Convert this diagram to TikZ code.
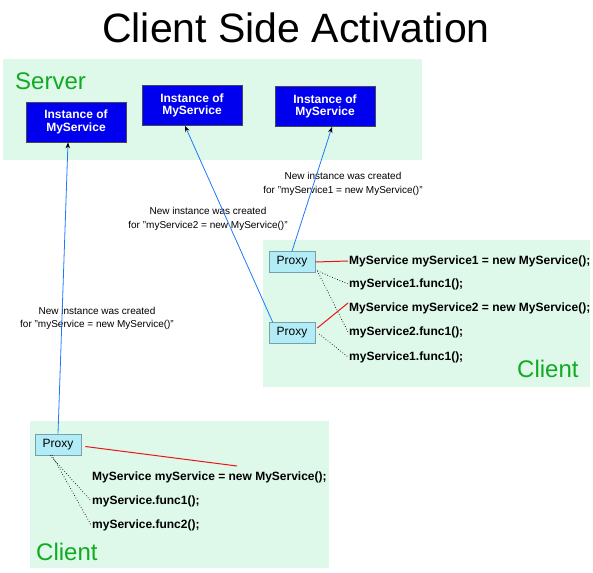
\documentclass[tikz,border=0pt]{standalone}
\usepackage{fontspec}
\setmainfont{Liberation Sans}
\usetikzlibrary{arrows.meta,calc}
\definecolor{panel}{RGB}{222,249,234}
\definecolor{lbl}{RGB}{17,170,34}
\definecolor{instblue}{RGB}{0,0,238}
\definecolor{instborder}{RGB}{70,70,90}
\definecolor{proxyfill}{RGB}{178,236,246}
\definecolor{proxyborder}{RGB}{120,160,170}
\definecolor{linkblue}{RGB}{30,120,255}
\definecolor{redline}{RGB}{235,20,20}
\tikzset{
  panelbox/.style={fill=panel,draw=none},
  inst/.style={draw=instborder,line width=0.8pt,fill=instblue,text=white,font=\fontsize{12}{12.5}\selectfont\bfseries,align=center,minimum width=100pt,minimum height=40pt,inner sep=0pt},
  proxy/.style={draw=proxyborder,line width=0.6pt,fill=proxyfill,font=\fontsize{12}{14}\selectfont,minimum width=46pt,minimum height=21pt,inner sep=0pt},
  code/.style={font=\fontsize{12}{14}\selectfont\bfseries,anchor=west,inner sep=1pt},
  note/.style={font=\fontsize{10}{13.5}\selectfont,align=center,inner sep=0pt},
  grouplbl/.style={font=\fontsize{24}{28}\selectfont,text=lbl,inner sep=0pt,anchor=base west},
  callline/.style={draw=linkblue,line width=0.8pt,-{Stealth[color=black,length=6pt,width=4.5pt]}},
  newline/.style={draw=redline,line width=1pt},
  useline/.style={draw=black,line width=0.7pt,dash pattern=on 0.7pt off 2pt},
}
\begin{document}
\begin{tikzpicture}[x=1pt,y=-1pt]
\useasboundingbox (0,0) rectangle (593,572);
% title
\node[font=\fontsize{41}{48}\selectfont,inner sep=0pt] (title) at (296,28) {Client Side Activation};
% panels
\path[panelbox] (3,59) rectangle (422,160);
\path[panelbox] (263,240) rectangle (590,387);
\path[panelbox] (30,421) rectangle (329,568);
\node[grouplbl] (srv) at (15,90) {Server};
\node[grouplbl] (cl1) at (517,377) {Client};
\node[grouplbl] (cl2) at (36,560) {Client};
% instances
\node[inst] (b1) at (76,122) {Instance of\\MyService};
\node[inst] (b2) at (192,105.5) {Instance of\\MyService};
\node[inst] (b3) at (325,106.5) {Instance of\\MyService};
% proxies
\node[proxy] (p1) at (292,262) {Proxy};
\node[proxy] (p2) at (292,333) {Proxy};
\node[proxy] (p3) at (58,444.5) {Proxy};
% code right client
\node[code] (r1) at (348,261) {MyService myService1 = new MyService();};
\node[code] (r2) at (348,284) {myService1.func1();};
\node[code] (r3) at (348,308) {MyService myService2 = new MyService();};
\node[code] (r4) at (348,332) {myService2.func1();};
\node[code] (r5) at (348,357) {myService1.func1();};
% code left client
\node[code] (l1) at (91,477) {MyService myService = new MyService();};
\node[code] (l2) at (91,501) {myService.func1();};
\node[code] (l3) at (91,525) {myService.func2();};
% notes
\node[note] (n1) at (343,184) {New instance was created\\for "myService1 = new MyService()"};
\node[note] (n2) at (208,219) {New instance was created\\for "myService2 = new MyService()"};
\node[note] (n3) at (97,318.5) {New instance was created\\for "myService = new MyService()"};
% calls to server
\draw[callline] (p3.north) -- ($(b1.south)+(-8,0)$);
\draw[callline] ($(p2.north west)+(4,0)$) -- ($(b2.south)+(-7,0)$);
\draw[callline] (p1.north) -- ($(b3.south)+(7,0)$);
% creation lines
\coordinate (newpt) at (237,466);
\draw[newline] (p1.east) -- (r1.west);
\draw[newline] ($(p2.east)+(2,-5)$) -- ($(r3.west)+(0,-5)$);
\draw[newline] ($(p3.east)+(4,2)$) -- (newpt);
% usage lines
\draw[useline] ($(p1.south east)+(2,-2)$) -- (r2.west);
\draw[useline] ($(p1.south east)+(2,-2)$) -- (r4.west);
\draw[useline] ($(p2.east)+(4,1)$) -- (r5.west);
\draw[useline] ($(p3.south)+(-8,0)$) -- (l2.west);
\draw[useline] ($(p3.south)+(-6,0)$) -- (l3.west);
\end{tikzpicture}
\end{document}
